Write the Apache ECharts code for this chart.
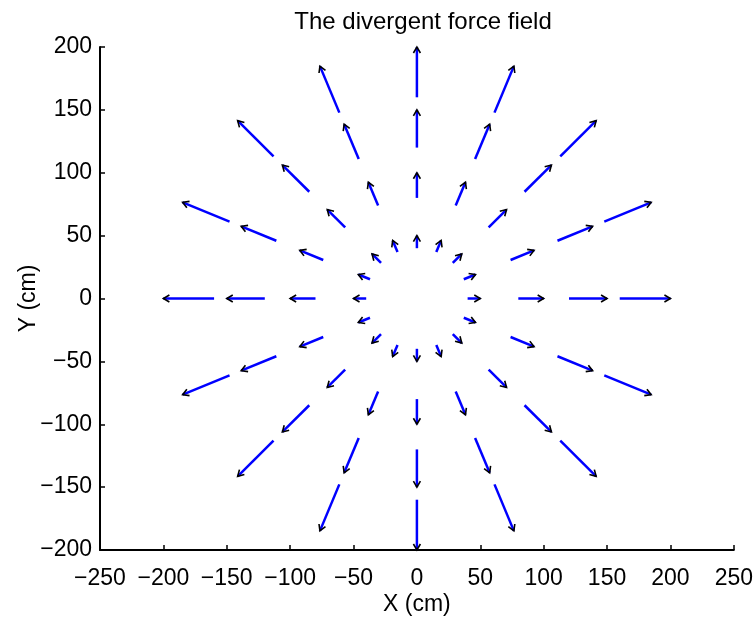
<!DOCTYPE html>
<html>
<head>
<meta charset="utf-8">
<script src="https://cdn.jsdelivr.net/npm/echarts@6/dist/echarts.min.js"></script>
<style>
html,body{margin:0;padding:0;background:#fff;}
#chart{width:756px;height:621px;}
</style>
</head>
<body>
<div id="chart"></div>
<script>
// Arrow tails (x, y) in cm
var arrowX = [
  40, 37.0, 28.3, 15.3, 0, -15.3, -28.3, -37.0, -40, -37.0, -28.3, -15.3, 0, 15.3, 28.3, 37.0,
  80, 73.9, 56.6, 30.6, 0, -30.6, -56.6, -73.9, -80, -73.9, -56.6, -30.6, 0, 30.6, 56.6, 73.9,
  120, 110.9, 84.9, 45.9, 0, -45.9, -84.9, -110.9, -120, -110.9, -84.9, -45.9, 0, 45.9, 84.9, 110.9,
  160, 147.8, 113.1, 61.2, 0, -61.2, -113.1, -147.8, -160, -147.8, -113.1, -61.2, 0, 61.2, 113.1, 147.8
];
var arrowY = [
  0, 15.3, 28.3, 37.0, 40, 37.0, 28.3, 15.3, 0, -15.3, -28.3, -37.0, -40, -37.0, -28.3, -15.3,
  0, 30.6, 56.6, 73.9, 80, 73.9, 56.6, 30.6, 0, -30.6, -56.6, -73.9, -80, -73.9, -56.6, -30.6,
  0, 45.9, 84.9, 110.9, 120, 110.9, 84.9, 45.9, 0, -45.9, -84.9, -110.9, -120, -110.9, -84.9, -45.9,
  0, 61.2, 113.1, 147.8, 160, 147.8, 113.1, 61.2, 0, -61.2, -113.1, -147.8, -160, -147.8, -113.1, -61.2
];
// Arrow components (u, v) in cm
var arrowU = [
  10, 9.2, 7.1, 3.8, 0, -3.8, -7.1, -9.2, -10, -9.2, -7.1, -3.8, 0, 3.8, 7.1, 9.2,
  20, 18.5, 14.1, 7.7, 0, -7.7, -14.1, -18.5, -20, -18.5, -14.1, -7.7, 0, 7.7, 14.1, 18.5,
  30, 27.7, 21.2, 11.5, 0, -11.5, -21.2, -27.7, -30, -27.7, -21.2, -11.5, 0, 11.5, 21.2, 27.7,
  40, 37.0, 28.3, 15.3, 0, -15.3, -28.3, -37.0, -40, -37.0, -28.3, -15.3, 0, 15.3, 28.3, 37.0
];
var arrowV = [
  0, 3.8, 7.1, 9.2, 10, 9.2, 7.1, 3.8, 0, -3.8, -7.1, -9.2, -10, -9.2, -7.1, -3.8,
  0, 7.7, 14.1, 18.5, 20, 18.5, 14.1, 7.7, 0, -7.7, -14.1, -18.5, -20, -18.5, -14.1, -7.7,
  0, 11.5, 21.2, 27.7, 30, 27.7, 21.2, 11.5, 0, -11.5, -21.2, -27.7, -30, -27.7, -21.2, -11.5,
  0, 15.3, 28.3, 37.0, 40, 37.0, 28.3, 15.3, 0, -15.3, -28.3, -37.0, -40, -37.0, -28.3, -15.3
];
var xTicks = [-250, -200, -150, -100, -50, 0, 50, 100, 150, 200, 250];
var yTicks = [-200, -150, -100, -50, 0, 50, 100, 150, 200];

var data = arrowX.map(function (x, i) { return [x, arrowY[i], arrowU[i], arrowV[i]]; });

function fmt(v) { return String(v).replace('-', '\u2212'); }
var FONT = 'Liberation Sans, Arial, sans-serif';
var FS = 23;

var chart = echarts.init(document.getElementById('chart'), null, { renderer: 'canvas' });
chart.setOption({
  backgroundColor: '#fff',
  animation: false,
  title: {
    text: 'The divergent force field',
    left: 418, top: 5, textAlign: 'center',
    textStyle: { fontFamily: FONT, fontSize: 24, fontWeight: 'normal', color: '#000' }
  },
  grid: { left: 100, right: 19, top: 47, bottom: 71, containLabel: false },
  xAxis: {
    type: 'value', min: xTicks[0], max: xTicks[xTicks.length - 1], interval: 50,
    name: 'X (cm)', nameLocation: 'middle', nameGap: 43, nameMoveOverlap: false,
    nameTextStyle: { fontFamily: FONT, fontSize: FS, color: '#000' },
    axisLine: { onZero: false, lineStyle: { color: '#000', width: 2 } },
    axisTick: { inside: true, length: 5, lineStyle: { color: '#000', width: 1.5 } },
    axisLabel: { fontFamily: FONT, fontSize: FS, color: '#000', margin: 17, formatter: fmt },
    splitLine: { show: false }
  },
  yAxis: {
    type: 'value', min: yTicks[0], max: yTicks[yTicks.length - 1], interval: 50,
    name: 'Y (cm)', nameLocation: 'middle', nameGap: 60, nameRotate: 90, nameMoveOverlap: false,
    nameTextStyle: { fontFamily: FONT, fontSize: FS, color: '#000' },
    axisLine: { onZero: false, lineStyle: { color: '#000', width: 2 } },
    axisTick: { inside: true, length: 5, lineStyle: { color: '#000', width: 1.5 } },
    axisLabel: { fontFamily: FONT, fontSize: FS, color: '#000', margin: 8, formatter: fmt },
    splitLine: { show: false }
  },
  series: [{
    type: 'custom',
    coordinateSystem: 'cartesian2d',
    data: data,
    encode: { x: 0, y: 1 },
    clip: false,
    renderItem: function (params, api) {
      var x = api.value(0), y = api.value(1), u = api.value(2), v = api.value(3);
      var p0 = api.coord([x, y]);
      var p1 = api.coord([x + u, y + v]);
      var dx = p1[0] - p0[0], dy = p1[1] - p0[1];
      var len = Math.sqrt(dx * dx + dy * dy) || 1;
      var ux = dx / len, uy = dy / len;
      var hl = 6, hw = 3.5;
      var bx = p1[0] - ux * hl, by = p1[1] - uy * hl;
      var a = [bx - uy * hw, by + ux * hw];
      var b = [bx + uy * hw, by - ux * hw];
      return {
        type: 'group',
        children: [
          { type: 'line', shape: { x1: p0[0], y1: p0[1], x2: p1[0], y2: p1[1] },
            style: { stroke: '#0000ff', lineWidth: 2.5 } },
          { type: 'polyline', shape: { points: [a, p1, b] },
            style: { stroke: '#000', lineWidth: 1.6, fill: null } }
        ]
      };
    }
  }]
});
</script>
</body>
</html>
